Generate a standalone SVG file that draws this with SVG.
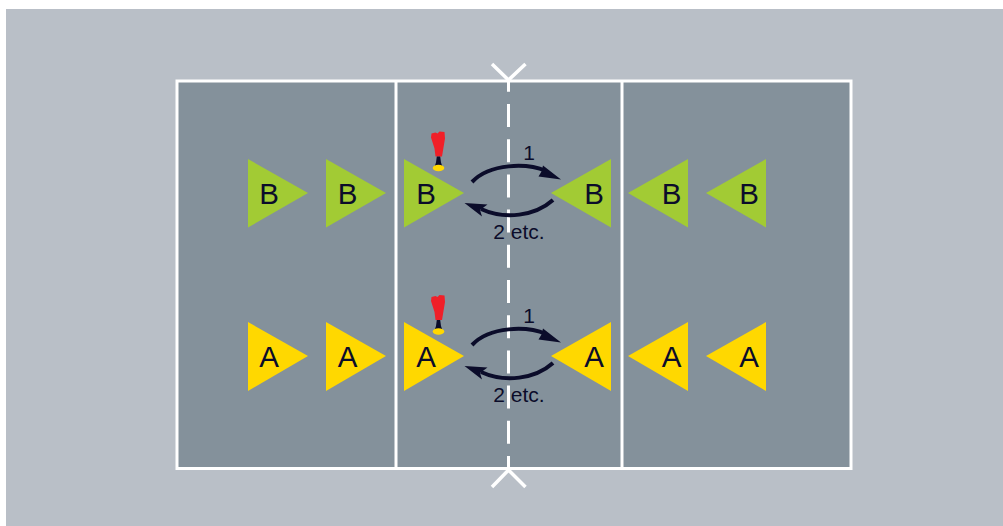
<svg xmlns="http://www.w3.org/2000/svg" width="1003" height="526" viewBox="0 0 1003 526">
<style>
.ln{stroke:#fff;stroke-width:3;fill:none}
.b{fill:#a2cb34}.a{fill:#ffd800}
text{font-family:"Liberation Sans",Arial,sans-serif;fill:#0b0c2a}
.l{font-size:29.500px;text-anchor:middle}
.t{font-size:21px;text-anchor:middle}
.arc{fill:none;stroke:#0b0c2a;stroke-width:4}
.h{fill:#0b0c2a}
.r{fill:#f01f28}.y{fill:#ffd800}
</style>
<defs>
<g id="shuttle">
<path class="r" d="M-7.500,-28 L-7,-32 L-3,-33 L-1,-32 L1,-34 L6,-33.500 L6.500,-27 L5,-18 L3.500,-9 L-3,-9 L-4,-17 Z"/>
<path class="h" d="M-1.700,-9 H1.700 L2.500,-3 L3.800,1 H-3.800 L-2.500,-3 Z"/>
<ellipse class="y" cx="0" cy="2.500" rx="5.800" ry="3.200"/>
</g>
<g id="arcs">
<path class="arc" d="M472,182 C490,163 527,163 546,171"/>
<path class="h" d="M561,179.500 L538.500,176.500 L541.500,171.500 L543,165.500 Z"/>
<path class="arc" d="M553,200 C535,216 505,220 481,209"/>
<path class="h" d="M464.500,203 L487.500,204.500 L480,210 L482,216.500 Z"/>
</g>
</defs>
<rect x="6" y="9" width="997" height="517" fill="#b9bfc7"/>
<rect x="177" y="81" width="674" height="387.500" fill="#84919b"/>
<g id="court">
<rect class="ln" x="177" y="81" width="674" height="387.500"/>
<line class="ln" x1="396" y1="81" x2="396" y2="468"/>
<line class="ln" x1="622" y1="81" x2="622" y2="468"/>
<line class="ln" x1="508.500" y1="81" x2="508.500" y2="468" stroke-dasharray="23 12.200" stroke-dashoffset="12.200"/>
<path class="ln" style="stroke-width:3.500" d="M492,64 L508.500,80 L525.500,64"/>
<path class="ln" style="stroke-width:3.500" d="M492,487 L508.500,470 L525.500,487"/>
</g>
<g id="connectors">
<use href="#arcs"/>
<use href="#arcs" y="163"/>
</g>
<g id="b1"><polygon class="b" points="248,159 308,193 248,227.500"/><text class="l" x="269" y="203.500">B</text></g>
<g id="b2"><polygon class="b" points="326,159 386,193 326,227.500"/><text class="l" x="347.500" y="203.500">B</text></g>
<g id="b3"><polygon class="b" points="404,159 464,193 404,227.500"/><text class="l" x="426" y="203.500">B</text></g>
<g id="b4"><polygon class="b" points="611,159 551,193 611,227.500"/><text class="l" x="594" y="203.500">B</text></g>
<g id="b5"><polygon class="b" points="688,159 628,193 688,227.500"/><text class="l" x="671.500" y="203.500">B</text></g>
<g id="b6"><polygon class="b" points="766,159 706,193 766,227.500"/><text class="l" x="749" y="203.500">B</text></g>
<g id="a1"><polygon class="a" points="248,322 308,356 248,391"/><text class="l" x="269" y="367">A</text></g>
<g id="a2"><polygon class="a" points="326,322 386,356 326,391"/><text class="l" x="347.500" y="367">A</text></g>
<g id="a3"><polygon class="a" points="404,322 464,356 404,391"/><text class="l" x="426" y="367">A</text></g>
<g id="a4"><polygon class="a" points="611,322 551,356 611,391"/><text class="l" x="594" y="367">A</text></g>
<g id="a5"><polygon class="a" points="688,322 628,356 688,391"/><text class="l" x="671.500" y="367">A</text></g>
<g id="a6"><polygon class="a" points="766,322 706,356 766,391"/><text class="l" x="749" y="367">A</text></g>
<g id="shuttle-b"><use href="#shuttle" x="438.500" y="165.500"/></g>
<g id="shuttle-a"><use href="#shuttle" x="438.500" y="329"/></g>
<g id="labels">
<text class="t" x="529" y="160">1</text>
<text class="t" x="519" y="238.500">2 etc.</text>
<text class="t" x="529" y="323">1</text>
<text class="t" x="519" y="401.500">2 etc.</text>
</g>
</svg>
